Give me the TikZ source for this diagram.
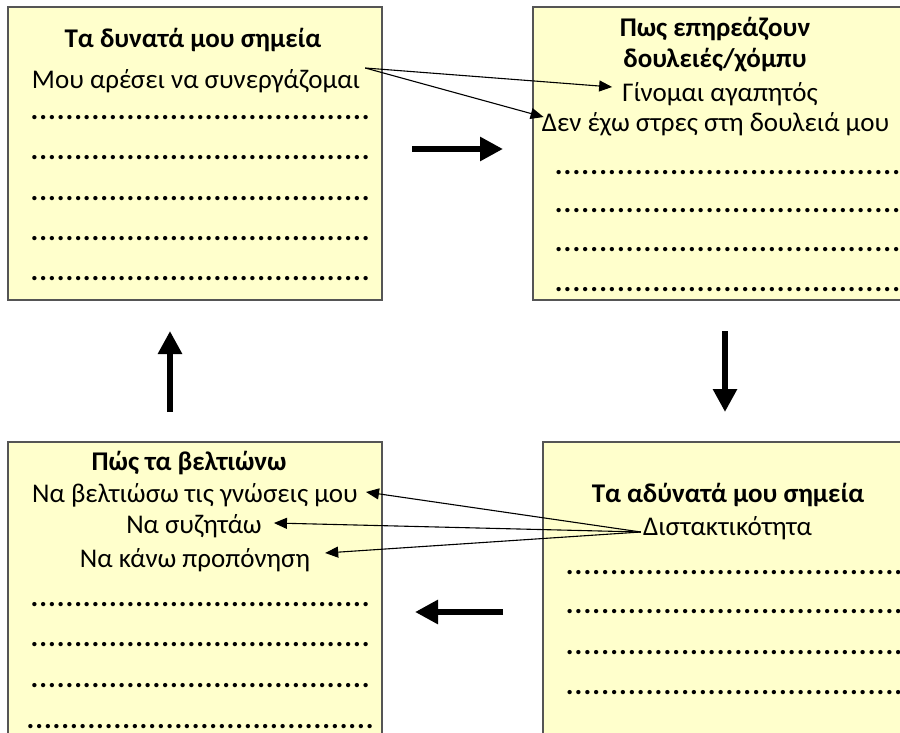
\documentclass[tikz,border=0pt]{standalone}
\usepackage{fontspec}
\setmainfont{Carlito}
\usepackage{xcolor}
\usetikzlibrary{arrows.meta,positioning}

\definecolor{paleyellow}{HTML}{FFFFCC}
\definecolor{boxline}{HTML}{555555}

% row of fill-in dots
\newcommand{\dotrow}[1]{\hbox to #1{\xleaders\hbox to 8.7pt{\hss\bfseries.\hss}\hfill}}

\begin{document}
\begin{tikzpicture}[
  x=1pt, y=-1pt,
  font=\fontsize{27}{31}\selectfont,
  panel/.style={draw=boxline, line width=1.3pt, fill=paleyellow},
  item/.style={inner sep=0pt, anchor=base, text height=20pt, text depth=6pt},
  heading/.style={item, font=\fontsize{27}{31}\selectfont\bfseries},
  dots/.style={inner sep=0pt, anchor=base west, font=\fontsize{29}{31}\selectfont},
  link/.style={-{Triangle[length=13pt,width=11pt]}, line width=1.1pt},
  flow/.style={-{Triangle[length=23pt,width=23pt]}, line width=6.5pt}
]
  \clip (0,0) rectangle (900,733);

  % the four panels
  \draw[panel] (8,7)   rectangle (382,300);
  \draw[panel] (533,7) rectangle (910,300);
  \draw[panel] (8,442) rectangle (382,745);
  \draw[panel] (543,442) rectangle (910,745);

  % strengths
  \node[heading] (str)  at (193,48) {Τα δυνατά μου σημεία};
  \node[item]    (mou)  at (196,89) {Μου αρέσει να συνεργάζομαι};
  \foreach \y in {118,158,199,239,279}
    \node[dots] at (30,\y+1.5) {\dotrow{340pt}};

  % effects
  \node[heading] (eff1) at (715,37) {Πως επηρεάζουν};
  \node[heading] (eff2) at (715,68) {δουλειές/χόμπυ};
  \node[item]    (gin)  at (720,102) {Γίνομαι αγαπητός};
  \node[item]    (den)  at (715.5,132) {Δεν έχω στρες στη δουλειά μου};
  \foreach \y in {173,211,250,290}
    \node[dots] at (554,\y+1.5) {\dotrow{400pt}};

  % weaknesses
  \node[heading] (weak) at (728,502) {Τα αδύνατά μου σημεία};
  \node[item]    (dis)  at (727.5,535) {Διστακτικότητα};
  \foreach \y in {573,612,653,693}
    \node[dots] at (565,\y+1.5) {\dotrow{400pt}};

  % improvements
  \node[heading] (imp)  at (189,470) {Πώς τα βελτιώνω};
  \node[item]    (imp1) at (195,502) {Να βελτιώσω τις γνώσεις μου};
  \node[item]    (imp2) at (194,533) {Να συζητάω};
  \node[item]    (imp3) at (195,567) {Να κάνω προπόνηση};
  \foreach \y in {605,645,686}
    \node[dots] at (30,\y+1.5) {\dotrow{340pt}};
  \node[dots] at (26,727+1.5) {\dotrow{348pt}};

  % thin links between items
  \draw[link] ([shift={(5pt,14pt)}]mou.east) -- ([shift={(-10pt,8pt)}]gin.west);
  \draw[link] ([shift={(5pt,14pt)}]mou.east) -- ([shift={(2pt,8pt)}]den.west);
  \draw[link] ([shift={(-2pt,-4pt)}]dis.west) -- ([shift={(8pt,3pt)}]imp1.east);
  \draw[link] ([shift={(-2pt,-4pt)}]dis.west) -- ([shift={(12pt,3pt)}]imp2.east);
  \draw[link] ([shift={(-2pt,-4pt)}]dis.west) -- ([shift={(15pt,7pt)}]imp3.east);

  % cycle arrows
  \coordinate (r0) at (412,149); \coordinate (r1) at (503,149);
  \coordinate (d0) at (725,331); \coordinate (d1) at (725,412);
  \coordinate (l0) at (503,612); \coordinate (l1) at (415,612);
  \coordinate (u0) at (170,412); \coordinate (u1) at (170,331);
  \draw[flow] (r0) -- (r1);
  \draw[flow] (d0) -- (d1);
  \draw[flow] (l0) -- (l1);
  \draw[flow] (u0) -- (u1);
\end{tikzpicture}
\end{document}
